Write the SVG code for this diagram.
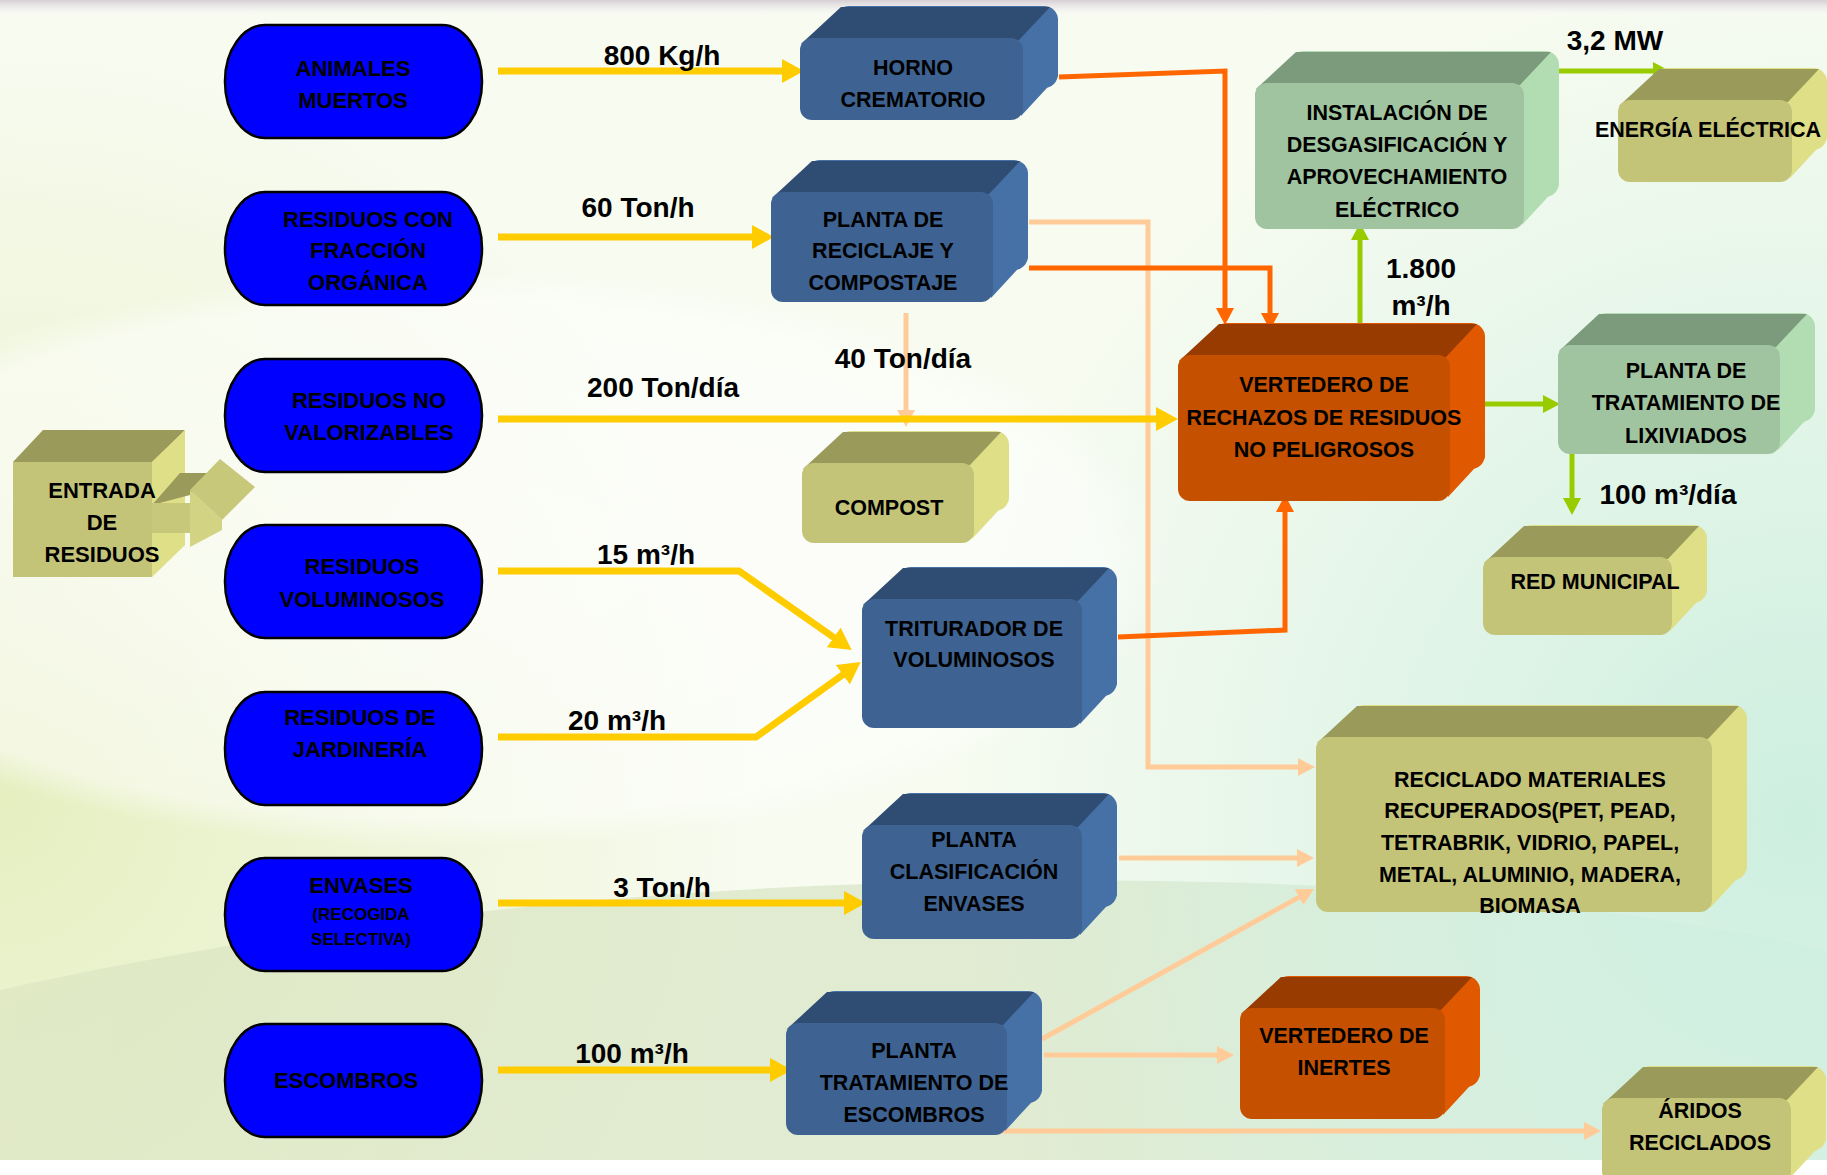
<svg xmlns="http://www.w3.org/2000/svg" width="1827" height="1175" viewBox="0 0 1827 1175">
<defs>
<radialGradient id="bgL" cx="0" cy="800" r="750" gradientUnits="userSpaceOnUse">
<stop offset="0" stop-color="#E6EFC0"/>
<stop offset="1" stop-color="#E6EFC0" stop-opacity="0"/>
</radialGradient>
<radialGradient id="bgR" cx="1800" cy="820" r="850" gradientUnits="userSpaceOnUse">
<stop offset="0" stop-color="#CDEFE0"/>
<stop offset="1" stop-color="#CDEFE0" stop-opacity="0"/>
</radialGradient>
<linearGradient id="bgB" x1="0" y1="0" x2="1" y2="0">
<stop offset="0" stop-color="#DDE6C2"/>
<stop offset="0.6" stop-color="#D9E6C8"/>
<stop offset="1" stop-color="#D6EFE3"/>
</linearGradient>
<radialGradient id="wsw" cx="450" cy="560" r="720" gradientUnits="userSpaceOnUse" gradientTransform="translate(450 560) scale(1 0.4) translate(-450 -560)">
<stop offset="0" stop-color="#FFFFFF" stop-opacity="0.7"/>
<stop offset="0.9" stop-color="#FFFFFF" stop-opacity="0.5"/>
<stop offset="1" stop-color="#FFFFFF" stop-opacity="0"/>
</radialGradient>
<linearGradient id="topband" x1="0" y1="0" x2="0" y2="1">
<stop offset="0" stop-color="#D6CED4"/>
<stop offset="1" stop-color="#FFFFFF" stop-opacity="0"/>
</linearGradient>
<marker id="aY" markerUnits="userSpaceOnUse" markerWidth="24" markerHeight="24" refX="15" refY="12" orient="auto"><path d="M0,0 L22,12 L0,24 Z" fill="#FFCC00"/></marker>
<marker id="aO" markerUnits="userSpaceOnUse" markerWidth="18" markerHeight="18" refX="12" refY="9" orient="auto"><path d="M0,0 L17,9 L0,18 Z" fill="#FF6600"/></marker>
<marker id="aP" markerUnits="userSpaceOnUse" markerWidth="18" markerHeight="18" refX="12" refY="9" orient="auto"><path d="M0,0 L17,9 L0,18 Z" fill="#FFCC99"/></marker>
<marker id="aG" markerUnits="userSpaceOnUse" markerWidth="18" markerHeight="18" refX="12" refY="9" orient="auto"><path d="M0,0 L17,9 L0,18 Z" fill="#99CC00"/></marker>
</defs>
<style>
text{font-family:"Liberation Sans",Arial,sans-serif;font-weight:bold;fill:#000}
.pt{font-size:22px;text-anchor:middle}
.bt{font-size:21.5px;text-anchor:middle}
.lb{font-size:28px;text-anchor:middle}
.sm{font-size:17px;text-anchor:middle}
.pill{fill:#0000FF;stroke:#000;stroke-width:2.5}
.blue .f{fill:#3E6392}.blue .t{fill:#2F4C72}.blue .s{fill:#4671A6}
.olive .f{fill:#C4C479}.olive .t{fill:#9A9A5A}.olive .s{fill:#DFDF88}
.green .f{fill:#A0C49F}.green .t{fill:#7C9B7C}.green .s{fill:#B2DDB2}
.orange .f{fill:#C45000}.orange .t{fill:#983B00}.orange .s{fill:#E05800}
.cy{fill:none;stroke:#FFCC00;stroke-width:7}
.co{fill:none;stroke:#FF6600;stroke-width:5}
.cp{fill:none;stroke:#FFCC99;stroke-width:5}
.cg{fill:none;stroke:#99CC00;stroke-width:5}
</style>

<g id="background">
<rect x="0" y="0" width="1827" height="1160" fill="#F7FBF0"/>
<rect x="0" y="0" width="1827" height="1160" fill="url(#bgL)"/>
<path d="M0,990 C400,900 900,860 1400,890 C1600,905 1727,930 1827,950 L1827,1160 L0,1160 Z" fill="url(#bgB)" opacity="0.75"/>
<rect x="0" y="0" width="1827" height="1160" fill="url(#bgR)"/>
<rect x="0" y="0" width="1827" height="1160" fill="url(#wsw)"/>
<rect x="0" y="0" width="1827" height="18" fill="url(#topband)"/>
<rect x="0" y="1160" width="1827" height="15" fill="#FFFFFF"/>
</g>

<g id="connectors">
<path class="cp" d="M1029,222 H1148 V767 H1310" marker-end="url(#aP)"/>
<path class="cp" d="M906,313 V422" marker-end="url(#aP)"/>
<path class="cp" d="M1119,858 H1309" marker-end="url(#aP)"/>
<path class="cp" d="M1042,1039 L1309.6,891.4" marker-end="url(#aP)"/>
<path class="cp" d="M1044,1055 H1229" marker-end="url(#aP)"/>
<path class="cp" d="M997,1131 H1596" marker-end="url(#aP)"/>
<path class="co" d="M1059,77 L1225,71 V320" marker-end="url(#aO)"/>
<path class="co" d="M1029,268 H1270 V325" marker-end="url(#aO)"/>
<path class="co" d="M1118,637 L1285,630 V500" marker-end="url(#aO)"/>
<path class="cy" d="M498,71 H797" marker-end="url(#aY)"/>
<path class="cy" d="M498,237 H767" marker-end="url(#aY)"/>
<path class="cy" d="M498,419 H1171" marker-end="url(#aY)"/>
<path class="cy" d="M498,571 H739 L846,646" marker-end="url(#aY)"/>
<path class="cy" d="M498,737 H756 L855,666" marker-end="url(#aY)"/>
<path class="cy" d="M498,903 H859" marker-end="url(#aY)"/>
<path class="cy" d="M498,1070 H785" marker-end="url(#aY)"/>
<path class="cg" d="M1558,71 H1665" marker-end="url(#aG)"/>
<path class="cg" d="M1360,328 V228" marker-end="url(#aG)"/>
<path class="cg" d="M1482,404 H1555" marker-end="url(#aG)"/>
<path class="cg" d="M1572,450 V510" marker-end="url(#aG)"/>
<text class="lb" x="662" y="65">800 Kg/h</text>
<text class="lb" x="638" y="217">60 Ton/h</text>
<text class="lb" x="663" y="397">200 Ton/día</text>
<text class="lb" x="903" y="368">40 Ton/día</text>
<text class="lb" x="646" y="564">15 m³/h</text>
<text class="lb" x="617" y="730">20 m³/h</text>
<text class="lb" x="662" y="897">3 Ton/h</text>
<text class="lb" x="632" y="1063">100 m³/h</text>
<text class="lb" x="1615" y="50">3,2 MW</text>
<text class="lb" x="1421" y="278">1.800</text>
<text class="lb" x="1421" y="315">m³/h</text>
<text class="lb" x="1668" y="504">100 m³/día</text>
</g>

<g id="entrada" class="olive">
<g transform="translate(13,462)">
<rect class="s" x="30" y="-32" width="139" height="115"/>
<polygon class="t" points="0,0 30,-32 172,-32 139,0"/>
<polygon class="s" points="139,0 172,-32 172,83 139,115"/>
<rect class="f" width="139" height="115"/>
</g>
<polygon points="152,505 180,473 213,473 190,495" fill="#9A9A5A"/>
<rect x="152" y="503" width="38" height="30" fill="#C8C87B"/>
<polygon points="190,490 222,520 222,530 190,547" fill="#D3D384"/>
<polygon points="190,490 220,459 255,487 222,520" fill="#C8C87B"/>
<text class="pt" x="102" y="498">ENTRADA</text>
<text class="pt" x="102" y="530">DE</text>
<text class="pt" x="102" y="562">RESIDUOS</text>
</g>

<g id="animales">
<rect class="pill" x="225" y="25" width="257" height="113" rx="40" ry="56"/>
<text class="pt" x="353" y="76">ANIMALES</text>
<text class="pt" x="353" y="108">MUERTOS</text>
</g>
<g id="organica">
<rect class="pill" x="225" y="192" width="257" height="113" rx="40" ry="56"/>
<text class="pt" x="368" y="227">RESIDUOS CON</text>
<text class="pt" x="368" y="258">FRACCIÓN</text>
<text class="pt" x="368" y="290">ORGÁNICA</text>
</g>
<g id="novalorizables">
<rect class="pill" x="225" y="359" width="257" height="113" rx="40" ry="56"/>
<text class="pt" x="369" y="408">RESIDUOS NO</text>
<text class="pt" x="369" y="440">VALORIZABLES</text>
</g>
<g id="voluminosos">
<rect class="pill" x="225" y="525" width="257" height="113" rx="40" ry="56"/>
<text class="pt" x="362" y="574">RESIDUOS</text>
<text class="pt" x="362" y="607">VOLUMINOSOS</text>
</g>
<g id="jardineria">
<rect class="pill" x="225" y="692" width="257" height="113" rx="40" ry="56"/>
<text class="pt" x="360" y="725">RESIDUOS DE</text>
<text class="pt" x="360" y="757">JARDINERÍA</text>
</g>
<g id="envases">
<rect class="pill" x="225" y="858" width="257" height="113" rx="40" ry="56"/>
<text class="pt" x="361" y="893">ENVASES</text>
<text class="sm" x="361" y="920">(RECOGIDA</text>
<text class="sm" x="361" y="945">SELECTIVA)</text>
</g>
<g id="escombros">
<rect class="pill" x="225" y="1024" width="257" height="113" rx="40" ry="56"/>
<text class="pt" x="346" y="1088">ESCOMBROS</text>
</g>

<g id="horno" class="blue">
<g transform="translate(800,38)">
<rect class="s" x="35" y="-32" width="223" height="82" rx="14"/>
<polygon class="t" points="1,6 41,-31 250,-31 219,2"/>
<polygon class="s" points="221,4 258,-20 258,38 221,78"/>
<rect class="f" width="223" height="82" rx="12"/>
</g>
<text class="bt" x="913" y="75">HORNO</text>
<text class="bt" x="913" y="107">CREMATORIO</text>
</g>

<g id="reciclaje" class="blue">
<g transform="translate(771,192)">
<rect class="s" x="35" y="-32" width="222" height="110" rx="14"/>
<polygon class="t" points="1,6 41,-31 249,-31 218,2"/>
<polygon class="s" points="220,4 257,-20 257,66 220,106"/>
<rect class="f" width="222" height="110" rx="12"/>
</g>
<text class="bt" x="883" y="227">PLANTA DE</text>
<text class="bt" x="883" y="258">RECICLAJE Y</text>
<text class="bt" x="883" y="290">COMPOSTAJE</text>
</g>

<g id="compost" class="olive">
<g transform="translate(802,463)">
<rect class="s" x="35" y="-32" width="172" height="80" rx="14"/>
<polygon class="t" points="1,6 41,-31 199,-31 168,2"/>
<polygon class="s" points="170,4 207,-20 207,36 170,76"/>
<rect class="f" width="172" height="80" rx="12"/>
</g>
<text class="bt" x="889" y="515">COMPOST</text>
</g>

<g id="triturador" class="blue">
<g transform="translate(862,599)">
<rect class="s" x="35" y="-32" width="220" height="129" rx="14"/>
<polygon class="t" points="1,6 41,-31 247,-31 216,2"/>
<polygon class="s" points="218,4 255,-20 255,85 218,125"/>
<rect class="f" width="220" height="129" rx="12"/>
</g>
<text class="bt" x="974" y="636">TRITURADOR DE</text>
<text class="bt" x="974" y="667">VOLUMINOSOS</text>
</g>

<g id="clasificacion" class="blue">
<g transform="translate(862,825)">
<rect class="s" x="35" y="-32" width="220" height="114" rx="14"/>
<polygon class="t" points="1,6 41,-31 247,-31 216,2"/>
<polygon class="s" points="218,4 255,-20 255,70 218,110"/>
<rect class="f" width="220" height="114" rx="12"/>
</g>
<text class="bt" x="974" y="847">PLANTA</text>
<text class="bt" x="974" y="879">CLASIFICACIÓN</text>
<text class="bt" x="974" y="911">ENVASES</text>
</g>

<g id="tratescombros" class="blue">
<g transform="translate(786,1023)">
<rect class="s" x="35" y="-32" width="221" height="112" rx="14"/>
<polygon class="t" points="1,6 41,-31 248,-31 217,2"/>
<polygon class="s" points="219,4 256,-20 256,68 219,108"/>
<rect class="f" width="221" height="112" rx="12"/>
</g>
<text class="bt" x="914" y="1058">PLANTA</text>
<text class="bt" x="914" y="1090">TRATAMIENTO DE</text>
<text class="bt" x="914" y="1122">ESCOMBROS</text>
</g>

<g id="desgasificacion" class="green">
<g transform="translate(1255,83)">
<rect class="s" x="35" y="-32" width="269" height="146" rx="14"/>
<polygon class="t" points="1,6 41,-31 296,-31 265,2"/>
<polygon class="s" points="267,4 304,-20 304,102 267,142"/>
<rect class="f" width="269" height="146" rx="12"/>
</g>
<text class="bt" x="1397" y="120">INSTALACIÓN DE</text>
<text class="bt" x="1397" y="152">DESGASIFICACIÓN Y</text>
<text class="bt" x="1397" y="184">APROVECHAMIENTO</text>
<text class="bt" x="1397" y="217">ELÉCTRICO</text>
</g>

<g id="energia" class="olive">
<g transform="translate(1618,100)">
<rect class="s" x="35" y="-32" width="174" height="82" rx="14"/>
<polygon class="t" points="1,6 41,-31 201,-31 170,2"/>
<polygon class="s" points="172,4 209,-20 209,38 172,78"/>
<rect class="f" width="174" height="82" rx="12"/>
</g>
<text class="bt" x="1708" y="137">ENERGÍA ELÉCTRICA</text>
</g>

<g id="vertedero" class="orange">
<g transform="translate(1178,355)">
<rect class="s" x="35" y="-32" width="272" height="146" rx="14"/>
<polygon class="t" points="1,6 41,-31 299,-31 268,2"/>
<polygon class="s" points="270,4 307,-20 307,102 270,142"/>
<rect class="f" width="272" height="146" rx="12"/>
</g>
<text class="bt" x="1324" y="392">VERTEDERO DE</text>
<text class="bt" x="1324" y="425">RECHAZOS DE RESIDUOS</text>
<text class="bt" x="1324" y="457">NO PELIGROSOS</text>
</g>

<g id="lixiviados" class="green">
<g transform="translate(1558,345)">
<rect class="s" x="35" y="-32" width="222" height="109" rx="14"/>
<polygon class="t" points="1,6 41,-31 249,-31 218,2"/>
<polygon class="s" points="220,4 257,-20 257,65 220,105"/>
<rect class="f" width="222" height="109" rx="12"/>
</g>
<text class="bt" x="1686" y="378">PLANTA DE</text>
<text class="bt" x="1686" y="410">TRATAMIENTO DE</text>
<text class="bt" x="1686" y="443">LIXIVIADOS</text>
</g>

<g id="redmunicipal" class="olive">
<g transform="translate(1483,557)">
<rect class="s" x="35" y="-32" width="189" height="78" rx="14"/>
<polygon class="t" points="1,6 41,-31 216,-31 185,2"/>
<polygon class="s" points="187,4 224,-20 224,34 187,74"/>
<rect class="f" width="189" height="78" rx="12"/>
</g>
<text class="bt" x="1595" y="589">RED MUNICIPAL</text>
</g>

<g id="reciclado" class="olive">
<g transform="translate(1316,737)">
<rect class="s" x="35" y="-32" width="396" height="175" rx="14"/>
<polygon class="t" points="1,6 41,-31 423,-31 392,2"/>
<polygon class="s" points="394,4 431,-20 431,131 394,171"/>
<rect class="f" width="396" height="175" rx="12"/>
</g>
<text class="bt" x="1530" y="787">RECICLADO MATERIALES</text>
<text class="bt" x="1530" y="818">RECUPERADOS(PET, PEAD,</text>
<text class="bt" x="1530" y="850">TETRABRIK, VIDRIO, PAPEL,</text>
<text class="bt" x="1530" y="882">METAL, ALUMINIO, MADERA,</text>
<text class="bt" x="1530" y="913">BIOMASA</text>
</g>

<g id="inertes" class="orange">
<g transform="translate(1240,1008)">
<rect class="s" x="35" y="-32" width="205" height="111" rx="14"/>
<polygon class="t" points="1,6 41,-31 232,-31 201,2"/>
<polygon class="s" points="203,4 240,-20 240,67 203,107"/>
<rect class="f" width="205" height="111" rx="12"/>
</g>
<text class="bt" x="1344" y="1043">VERTEDERO DE</text>
<text class="bt" x="1344" y="1075">INERTES</text>
</g>

<g id="aridos" class="olive">
<g transform="translate(1602,1098)">
<rect class="s" x="35" y="-32" width="189" height="85" rx="14"/>
<polygon class="t" points="1,6 41,-31 216,-31 185,2"/>
<polygon class="s" points="187,4 224,-20 224,41 187,81"/>
<rect class="f" width="189" height="85" rx="12"/>
</g>
<text class="bt" x="1700" y="1118">ÁRIDOS</text>
<text class="bt" x="1700" y="1150">RECICLADOS</text>
</g>
</svg>
